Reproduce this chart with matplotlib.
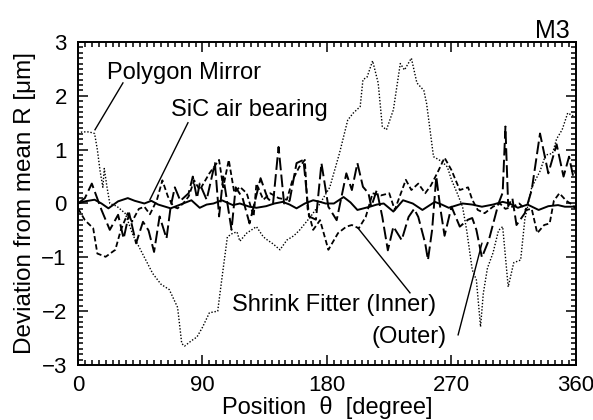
import matplotlib
matplotlib.use("Agg")
import matplotlib.pyplot as plt
from matplotlib.ticker import MultipleLocator

plt.rcParams["font.family"] = ["Liberation Sans", "DejaVu Sans"]

# roundness deviation traces, position in degrees, deviation in um
theta_poly = [0, 3, 8, 12, 14, 16, 18, 19, 21, 23, 28, 34, 40, 46, 54, 60, 66, 72, 75, 77,
              82, 86, 90, 95, 101, 104, 108, 112, 115, 117, 122, 129, 134, 137, 141, 146, 151,
              156, 160, 168, 175, 182, 189, 195, 199, 204, 206, 209, 213, 217, 220, 223, 228,
              233, 236, 241, 245, 250, 252, 257, 263, 267, 270, 274, 278, 281, 285, 288, 291,
              293, 296, 300, 304, 307, 311, 315, 320, 323, 328, 334, 338, 343, 346, 350, 354,
              357, 360]
dev_poly = [1.30, 1.33, 1.33, 1.30, 1.00, 0.60, 0.30, 0.65, 0.30, 0.00, -0.05, -0.18, -0.60,
            -0.90, -1.30, -1.50, -1.60, -1.93, -2.60, -2.65, -2.55, -2.48, -2.30, -2.03, -2.00,
            -1.40, -0.62, -0.55, -0.53, -0.70, -0.55, -0.43, -0.62, -0.68, -0.75, -0.86, -0.68,
            -0.60, -0.50, -0.25, 0.00, 0.30, 0.93, 1.55, 1.68, 1.80, 2.30, 2.35, 2.65, 2.24,
            1.43, 1.37, 1.74, 2.60, 2.48, 2.70, 2.24, 2.10, 1.86, 0.87, 0.78, 0.68, 0.44, 0.20,
            -0.06, -0.50, -1.23, -1.42, -2.29, -1.67, -1.20, -0.92, -0.50, -0.43, -1.55, -1.10,
            -1.05, -0.30, 0.30, 0.60, 0.90, 0.93, 1.20, 1.37, 1.68, 1.64, 1.60]

theta_sic = [0, 5, 12, 17, 22, 29, 36, 41, 48, 53, 58, 67, 74, 82, 88, 93, 98, 104, 112, 117,
             124, 129, 136, 142, 148, 153, 158, 164, 170, 175, 179, 185, 192, 197, 202, 211,
             216, 221, 228, 235, 242, 249, 258, 263, 268, 278, 285, 292, 300, 307, 312, 318,
             325, 333, 340, 347, 352, 357, 360]
dev_sic = [0.00, 0.04, 0.07, 0.00, -0.09, 0.04, 0.10, 0.05, 0.00, 0.05, -0.02, -0.09, -0.02,
           0.06, -0.08, -0.02, 0.00, 0.06, -0.03, 0.00, -0.06, -0.08, -0.05, 0.00, 0.03, -0.02,
           -0.09, 0.00, 0.06, 0.03, 0.00, 0.00, 0.12, 0.02, -0.12, -0.06, -0.02, 0.00, -0.15,
           0.06, 0.00, -0.12, 0.03, -0.02, -0.08, 0.00, -0.02, -0.06, -0.02, 0.03, 0.00, -0.08,
           -0.02, -0.12, -0.05, -0.03, -0.06, -0.06, -0.05]

theta_inner = [0, 5, 11, 14, 20, 27, 31, 36, 39, 44, 48, 52, 57, 61, 65, 69, 72, 76, 80, 84,
               88, 95, 102, 105, 109, 113, 117, 122, 127, 129, 134, 139, 145, 151, 155, 160,
               164, 166, 170, 175, 181, 188, 194, 198, 203, 208, 213, 219, 225, 229, 237, 241,
               246, 251, 255, 260, 265, 270, 276, 282, 285, 289, 294, 300, 305, 309, 314, 319,
               324, 328, 332, 337, 341, 344, 348, 353, 356, 360]
dev_inner = [-0.09, -0.31, -0.46, -0.93, -0.99, -0.86, -0.49, -0.18, -0.34, -0.10, -0.06,
             -0.20, 0.06, 0.43, 0.13, -0.06, -0.09, 0.00, 0.13, 0.43, 0.25, 0.56, 0.81, 0.30,
             0.81, 0.20, 0.31, 0.19, -0.24, 0.37, 0.07, 0.19, 0.10, 0.07, 0.43, 0.68, 0.81,
             -0.10, -0.49, -0.31, -0.86, -0.55, -0.43, -0.40, -0.46, -0.25, 0.19, 0.15, 0.19,
             -0.12, 0.44, 0.25, 0.37, 0.19, 0.33, 0.58, 0.85, 0.62, 0.25, 0.30, 0.07, -0.12,
             -0.18, -0.06, 0.00, -0.10, -0.06, 0.00, -0.12, -0.10, -0.55, -0.40, -0.37, 0.05,
             0.19, 0.05, 0.00, -0.10]

theta_outer = [0, 5, 10, 17, 23, 29, 33, 37, 42, 47, 51, 55, 59, 64, 67, 70, 74, 80, 83, 86,
               88, 93, 99, 102, 105, 111, 114, 119, 124, 132, 137, 141, 145, 149, 153, 158,
               163, 167, 172, 176, 181, 187, 194, 198, 202, 206, 210, 212, 216, 220, 224, 228,
               234, 239, 243, 246, 251, 253, 256, 259, 262, 265, 270, 276, 282, 285, 288, 292,
               297, 304, 307, 309, 311, 314, 317, 323, 328, 334, 340, 346, 351, 355, 358, 360]
dev_outer = [0.00, 0.10, 0.37, -0.12, -0.49, -0.21, -0.65, -0.18, -0.74, -0.34, -0.50, -0.90,
             -0.24, -0.65, -0.06, 0.30, 0.05, 0.19, 0.50, 0.10, 0.37, 0.07, 0.75, -0.24, 0.50,
             -0.49, 0.30, 0.10, -0.37, 0.47, 0.10, 0.00, 1.05, 0.00, 0.05, 0.75, 0.81, -0.24,
             -0.30, 0.75, -0.06, -0.31, 0.56, 0.25, 0.75, 0.31, 0.19, -0.06, 0.25, -0.25, -0.87,
             -0.43, -0.68, -0.25, -0.10, -0.25, -0.74, -1.05, -0.49, 0.50, -0.10, -0.60, -0.06,
             -0.43, -0.30, -0.27, -0.49, -1.00, -0.68, 0.00, 0.20, 1.43, -0.05, 0.10, -0.40,
             -0.18, 0.25, 1.30, 0.56, 1.10, 0.50, 0.87, 0.50, 0.60]

fig = plt.figure(figsize=(5.93, 4.20), dpi=100)
ax = fig.add_axes([0.1315, 0.131, 0.8398, 0.769])

ax.plot(theta_poly, dev_poly, color="black", lw=1.0, ls=(0, (1.0, 1.3)))
ax.plot(theta_sic, dev_sic, color="black", lw=1.4, ls="-")
ax.plot(theta_inner, dev_inner, color="black", lw=1.3, ls=(0, (3.0, 1.6)))
ax.plot(theta_outer, dev_outer, color="black", lw=1.4, ls=(0, (6.5, 2.2)))

ax.set_xlim(0, 360)
ax.set_ylim(-3, 3)
ax.xaxis.set_major_locator(MultipleLocator(90))
ax.xaxis.set_minor_locator(MultipleLocator(5))
ax.yaxis.set_major_locator(MultipleLocator(1))
ax.yaxis.set_minor_locator(MultipleLocator(0.1))
ax.tick_params(which="both", direction="in", top=True, right=True, width=1.1, labelsize=16)
ax.tick_params(which="major", length=7)
ax.tick_params(which="minor", length=3.5)
ax.tick_params(axis="x", which="major", pad=7)
ax.tick_params(axis="y", which="major", pad=8)
for sp in ax.spines.values():
    sp.set_linewidth(1.4)

ax.set_xlabel("Position  θ  [degree]", fontsize=17, labelpad=0)
ax.set_ylabel("Deviation from mean R [μm]", fontsize=17.5, labelpad=4)

# labels with leader lines
fs = 17
ax.text(21, 2.43, "Polygon Mirror", fontsize=fs, va="center")
ax.plot([32.5, 12.3], [2.24, 1.37], color="black", lw=1.0)
ax.text(67, 1.74, "SiC air bearing", fontsize=fs, va="center")
ax.plot([79.5, 52], [1.50, 0.07], color="black", lw=1.0)
ax.text(111.4, -1.89, "Shrink Fitter (Inner)", fontsize=fs, va="center")
ax.plot([240, 202.5], [-1.66, -0.46], color="black", lw=1.0)
ax.text(266.5, -2.48, "(Outer)", fontsize=fs, va="center", ha="right")
ax.plot([274.8, 292], [-2.44, -0.74], color="black", lw=1.0)

ax.text(0.988, 1.012, "M3", transform=ax.transAxes, fontsize=18, ha="right", va="baseline")

fig.savefig("out.png", dpi=100)
